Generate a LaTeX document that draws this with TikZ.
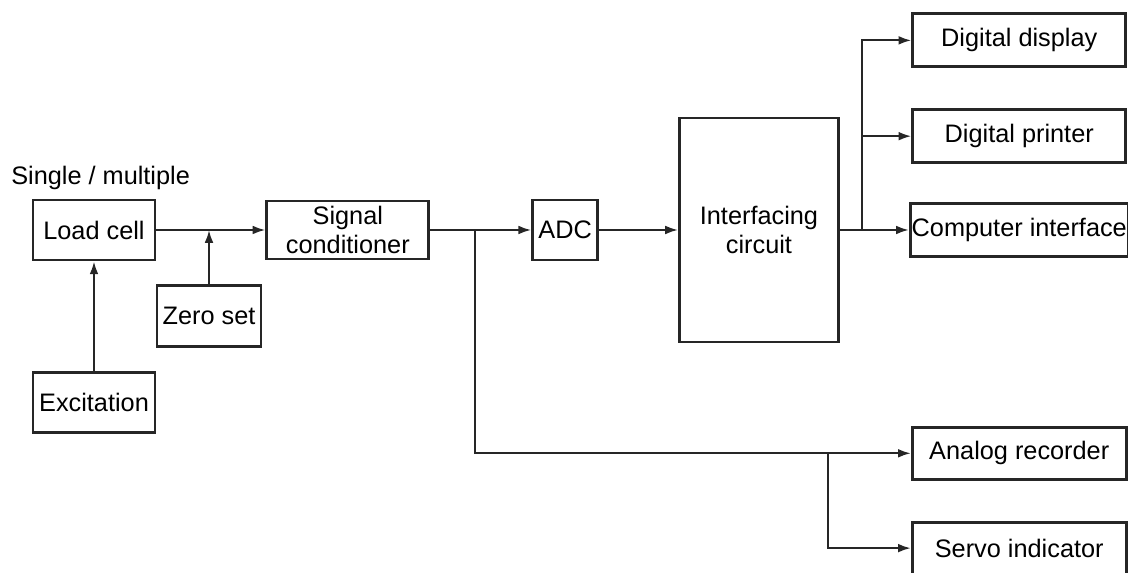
\documentclass[tikz,border=0pt]{standalone}
\usepackage{fontspec}
\setmainfont{Liberation Sans}
\usepackage{tikz}
\usetikzlibrary{arrows.meta,positioning,calc}

\begin{document}
\begin{tikzpicture}[
    blk/.style={rectangle, draw=black!85, line width=2pt, align=center, inner sep=1pt, font=\fontsize{18}{21}\selectfont},
    outblk/.style={blk, minimum height=1.3cm, minimum width=5.35cm},
    arr/.style={-{Latex[length=3.2mm,width=2.2mm]}, line width=1.5pt, draw=black!85}
]
    \useasboundingbox (0,0) rectangle (28.2,14.325);

    % input side
    \node [blk, minimum width=3.05cm, minimum height=1.5cm] (lc) at (2.35,8.575) {Load cell};
    \node [anchor=west, inner sep=0pt, font=\fontsize{18}{21}\selectfont] (lbl) at (0.275,9.875) {Single / multiple};
    \node [blk, minimum width=3.05cm, minimum height=1.5cm, below=2.75cm of lc] (exc) {Excitation};
    \node [blk, minimum width=2.6cm, minimum height=1.525cm] (zs) at (5.225,6.425) {Zero set};

    % main row
    \node [blk, minimum width=4.05cm, minimum height=1.45cm, right=2.725cm of lc] (sc) {Signal\\conditioner};
    \node [blk, minimum width=1.625cm, minimum height=1.5cm, right=2.525cm of sc] (adc) {ADC};
    \node [blk, minimum width=3.975cm, minimum height=5.6cm, right=1.975cm of adc] (ic) {Interfacing\\circuit};

    % outputs
    \node [outblk, minimum width=5.425cm, minimum height=1.325cm, right=1.725cm of ic] (ci) {Computer interface};
    \node [outblk, minimum width=5.325cm, minimum height=1.325cm, above=0.95cm of ci] (dp) {Digital printer};
    \node [outblk, minimum width=5.325cm, minimum height=1.325cm, above=1.0cm of dp] (dd) {Digital display};
    \node [outblk, below=4.2cm of ci] (ar) {Analog recorder};
    \node [outblk, below=1.0cm of ar] (si) {Servo indicator};

    \coordinate (j1) at ($(ic.east)+(0.55,0)$);
    \coordinate (j2) at ($(sc.east)+(1.125,0)$);
    \coordinate (j3) at ($(ar.west)+(-2.075,0)$);

    \draw [arr] (lc) -- (sc);
    \draw [arr] (exc) -- (lc);
    \draw [arr] (zs) -- (zs |- lc.east);
    \draw [arr] (sc) -- (adc);
    \draw [arr] (adc) -- (ic);
    \draw [arr] (ic) -- (ci);
    \draw [arr] (j1) |- (dp);
    \draw [arr] (j1) |- (dd);
    \draw [arr] (j2) |- (ar);
    \draw [arr] (j3) |- (si);
\end{tikzpicture}
\end{document}
